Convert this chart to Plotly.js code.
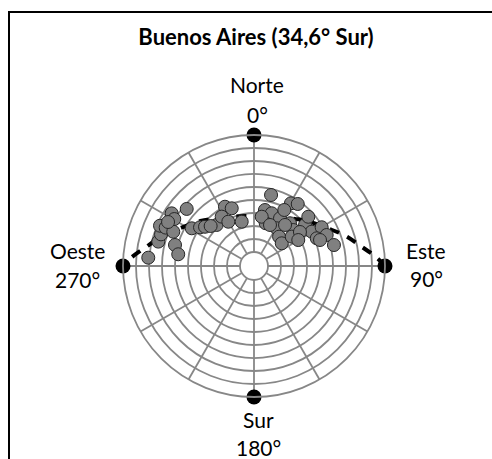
<!DOCTYPE html>
<html>
<head>
<meta charset="utf-8">
<script src="https://cdn.plot.ly/plotly-3.0.1.min.js"></script>
<style>html,body{margin:0;padding:0;background:#fff;}#chart{width:492px;height:459px;}</style>
</head>
<body>
<div id="chart"></div>
<script>
// Observations (azimuth in degrees clockwise from North, radial value 0..90)
var obsTheta = [274.5, 284.3, 288.8, 293.2, 293.5, 302.6, 300.5, 293.0, 310.3, 284.9,
                278.8, 301.2, 305.6, 308.7, 317.7, 333.9, 338.9, 326.8, 329.9, 344.5,
                297.1, 312.7,
                13.5, 30.5, 35.2, 11.1, 18.6, 15.3, 28.6, 31.0, 40.5, 50.7,
                40.1, 47.5, 52.1, 51.2, 47.8, 59.3, 60.2, 66.9, 75.3, 66.2,
                8.9, 37.1, 53.5, 21.3, 59.6, 68.5, 28.4];
var obsR =     [70.8, 65.2, 64.8, 67.9, 63.3, 64.4, 60.4, 56.7, 57.1, 52.1,
                48.2, 45.2, 40.3, 37.5, 31.9, 40.0, 36.8, 34.6, 28.6, 24.6,
                63.5, 34.6,
                45.4, 45.2, 47.6, 33.1, 32.0, 23.3, 31.0, 23.1, 18.9, 16.8,
                32.2, 30.2, 26.0, 39.6, 45.6, 40.9, 49.2, 50.0, 52.8, 42.0,
                27.6, 28.8, 33.2, 23.1, 28.7, 43.8, 38.2];

// Dashed path from East to West through North
var pathTheta = [90, 86, 80, 71.5, 63, 50, 41, 25, 0, 335, 319, 310, 297, 288.5, 280, 274, 270];
var pathR     = [90, 83.7, 73.6, 63, 53, 43, 37.2, 31, 27.7, 31, 37.2, 43, 53.2, 63, 73.6, 83.7, 90];

// Cardinal points
var cardTheta = [0, 90, 180, 270];
var cardR = [90, 90, 90, 90];
var cardNames = ["Norte", "Este", "Sur", "Oeste"];
var cardDeg = ["0°", "90°", "180°", "270°"];

var traces = [
  {type: 'scatterpolar', mode: 'lines', theta: pathTheta, r: pathR,
   line: {color: '#000', width: 4, dash: '10px,9px', shape: 'spline'},
   hoverinfo: 'skip', cliponaxis: false},
  {type: 'scatterpolar', mode: 'markers', theta: obsTheta, r: obsR,
   marker: {size: 13, color: '#808080', line: {color: '#262626', width: 1}},
   cliponaxis: false},
  {type: 'scatterpolar', mode: 'markers', theta: cardTheta, r: cardR,
   marker: {size: 15, color: '#000'}, cliponaxis: false}
];

var W = 492, H = 459;
var cx = 254, cy = 266, R = 131;
function px(x) { return x / W; }
function py(y) { return 1 - y / H; }

var lab = {family: 'Lato, sans-serif', size: 21, color: '#000'};
var annPos = [
  [257, 85, 114],
  [426, 250, 278],
  [258, 419, 447],
  [77, 250, 279]
];
var annotations = [];
for (var i = 0; i < 4; i++) {
  annotations.push({xref: 'paper', yref: 'paper', x: px(annPos[i][0]), y: py(annPos[i][1]),
    text: cardNames[i], showarrow: false, xanchor: 'center', yanchor: 'middle', font: lab});
  annotations.push({xref: 'paper', yref: 'paper', x: px(annPos[i][0]), y: py(annPos[i][2]),
    text: cardDeg[i], showarrow: false, xanchor: 'center', yanchor: 'middle', font: lab});
}

var layout = {
  width: W, height: H,
  margin: {l: 0, r: 0, t: 0, b: 0},
  paper_bgcolor: '#fff',
  showlegend: false,
  title: {text: '<b>Buenos Aires (34,6° Sur)</b>', x: px(256), xanchor: 'center',
          y: py(37), yanchor: 'middle', yref: 'container',
          font: {family: 'Lato, sans-serif', size: 22, color: '#000'}},
  polar: {
    domain: {x: [px(cx - R), px(cx + R)], y: [py(cy + R), py(cy - R)]},
    hole: 0.107,
    bgcolor: '#fff',
    angularaxis: {rotation: 90, direction: 'clockwise', dtick: 30, tick0: 0,
      showticklabels: false, ticks: '', showgrid: true, gridcolor: '#878787', gridwidth: 1.8,
      showline: true, linecolor: '#878787', linewidth: 1.8},
    radialaxis: {range: [0, 90], dtick: 10, tick0: 0, showticklabels: false, ticks: '',
      showline: false, showgrid: true, gridcolor: '#878787', gridwidth: 1.8}
  },
  annotations: annotations,
  shapes: [{type: 'rect', xref: 'paper', yref: 'paper', x0: px(9), x1: 1.2, y0: -0.2, y1: py(12),
            line: {color: '#000', width: 2}, fillcolor: 'rgba(0,0,0,0)'}]
};

Plotly.newPlot('chart', traces, layout, {displayModeBar: false, staticPlot: true});
</script>
</body>
</html>
